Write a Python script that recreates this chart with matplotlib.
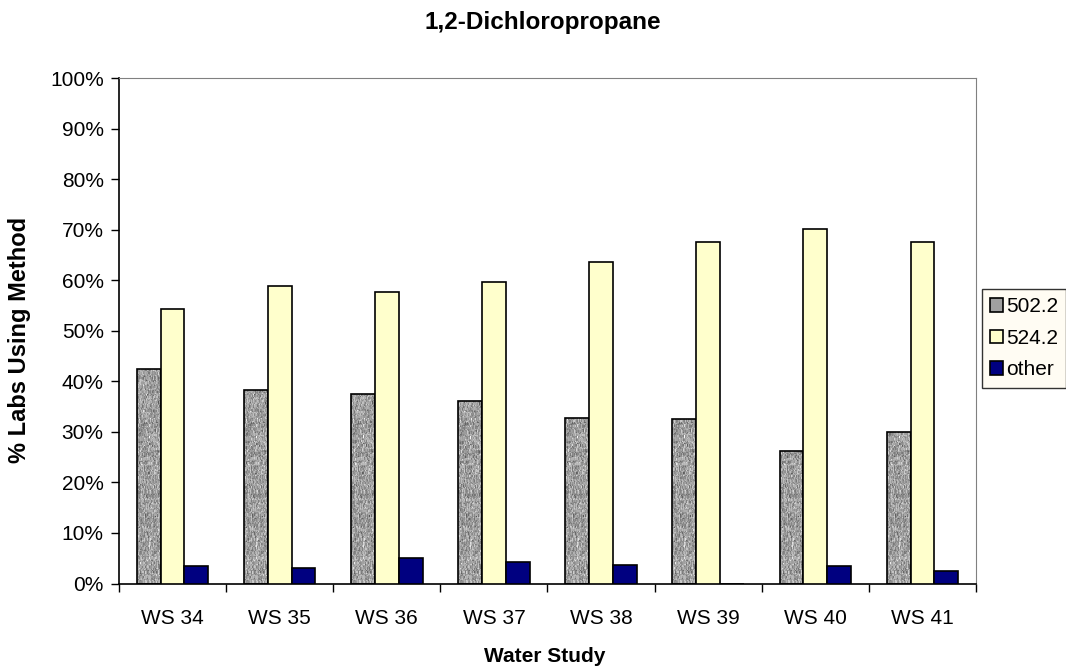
import numpy as np
import matplotlib
matplotlib.use("Agg")
import matplotlib.pyplot as plt
from matplotlib.ticker import PercentFormatter

plt.rcParams['font.family'] = ['Liberation Sans', 'DejaVu Sans']

# data (percent of labs)
studies = ['WS 34', 'WS 35', 'WS 36', 'WS 37', 'WS 38', 'WS 39', 'WS 40', 'WS 41']
m502 = [42.4, 38.3, 37.4, 36.2, 32.7, 32.5, 26.3, 30.0]
m524 = [54.3, 58.8, 57.7, 59.6, 63.7, 67.5, 70.2, 67.5]
other = [3.4, 3.0, 5.1, 4.3, 3.6, 0.0, 3.5, 2.5]

fig = plt.figure(figsize=(10.66, 6.69), dpi=100)
ax = fig.add_axes([0.1116, 0.1278, 0.804, 0.7556])

x = np.arange(len(studies))
w = 1 / 4.5

# granite-like texture for the 502.2 bars
rng = np.random.default_rng(3)
tex = rng.normal(0.62, 0.16, (400, 60))
tex = (tex + np.roll(tex, 1, 0) + np.roll(tex, 1, 1)) / 3

b1 = ax.bar(x - w, m502, w, color='#a8a8a8', edgecolor='black', linewidth=1.2, label='502.2', zorder=2)
for p in b1:
    im = ax.imshow(tex, cmap='gray', vmin=0, vmax=1, aspect='auto', interpolation='nearest',
                   extent=[p.get_x(), p.get_x() + p.get_width(), 0, 100], zorder=2.5)
    im.set_clip_path(p)
    p.set_zorder(3)
    p.set_facecolor('none')
ax.bar(x, m524, w, color='#ffffcc', edgecolor='black', linewidth=1.2, label='524.2', zorder=3)
ax.bar(x + w, other, w, color='#000080', edgecolor='black', linewidth=1.2, label='other', zorder=3)

ax.set_xlim(-0.5, len(studies) - 0.5)
ax.set_ylim(0, 100)
ax.set_yticks(np.arange(0, 101, 10))
ax.yaxis.set_major_formatter(PercentFormatter(decimals=0))
ax.set_xticks(x)
ax.set_xticklabels(studies)
ax.set_xticks(np.arange(-0.5, len(studies)), minor=True)
ax.tick_params(axis='x', which='major', length=0, pad=18, labelsize=15)
ax.tick_params(axis='x', which='minor', length=6, width=1, direction='out')
ax.tick_params(axis='y', length=6, width=1, direction='out', labelsize=15, pad=5)

for s in ['top', 'right']:
    ax.spines[s].set_color('#808080')
for s in ['left', 'bottom']:
    ax.spines[s].set_color('black')
    ax.spines[s].set_linewidth(1.2)

fig.text(0.509, 1 - 22 / 669, '1,2-Dichloropropane', ha='center', va='center', fontsize=17.5, fontweight='bold')
fig.text(20 / 1066, 1 - 340 / 669, '% Labs Using Method', ha='center', va='center', rotation=90,
         fontsize=17, fontweight='bold')
fig.text(0.511, 1 - 657 / 669, 'Water Study', ha='center', va='center', fontsize=15, fontweight='bold')

# legend (sample for 502.2 uses a plain grey swatch)
handles, labels = ax.get_legend_handles_labels()
leg = fig.legend(handles, labels, loc='upper left', bbox_to_anchor=(982 / 1066, 1 - 289 / 669),
                 fontsize=15, frameon=True, fancybox=False, handlelength=0.6, handleheight=0.6,
                 handletextpad=0.15, labelspacing=0.6, borderpad=0.4, borderaxespad=0)
leg.get_frame().set_facecolor('#fffcf0')
leg.get_frame().set_edgecolor('black')
leg.get_frame().set_linewidth(1)
leg.legend_handles[0].set_facecolor('#a0a0a0')

fig.savefig('out.png', dpi=100)
